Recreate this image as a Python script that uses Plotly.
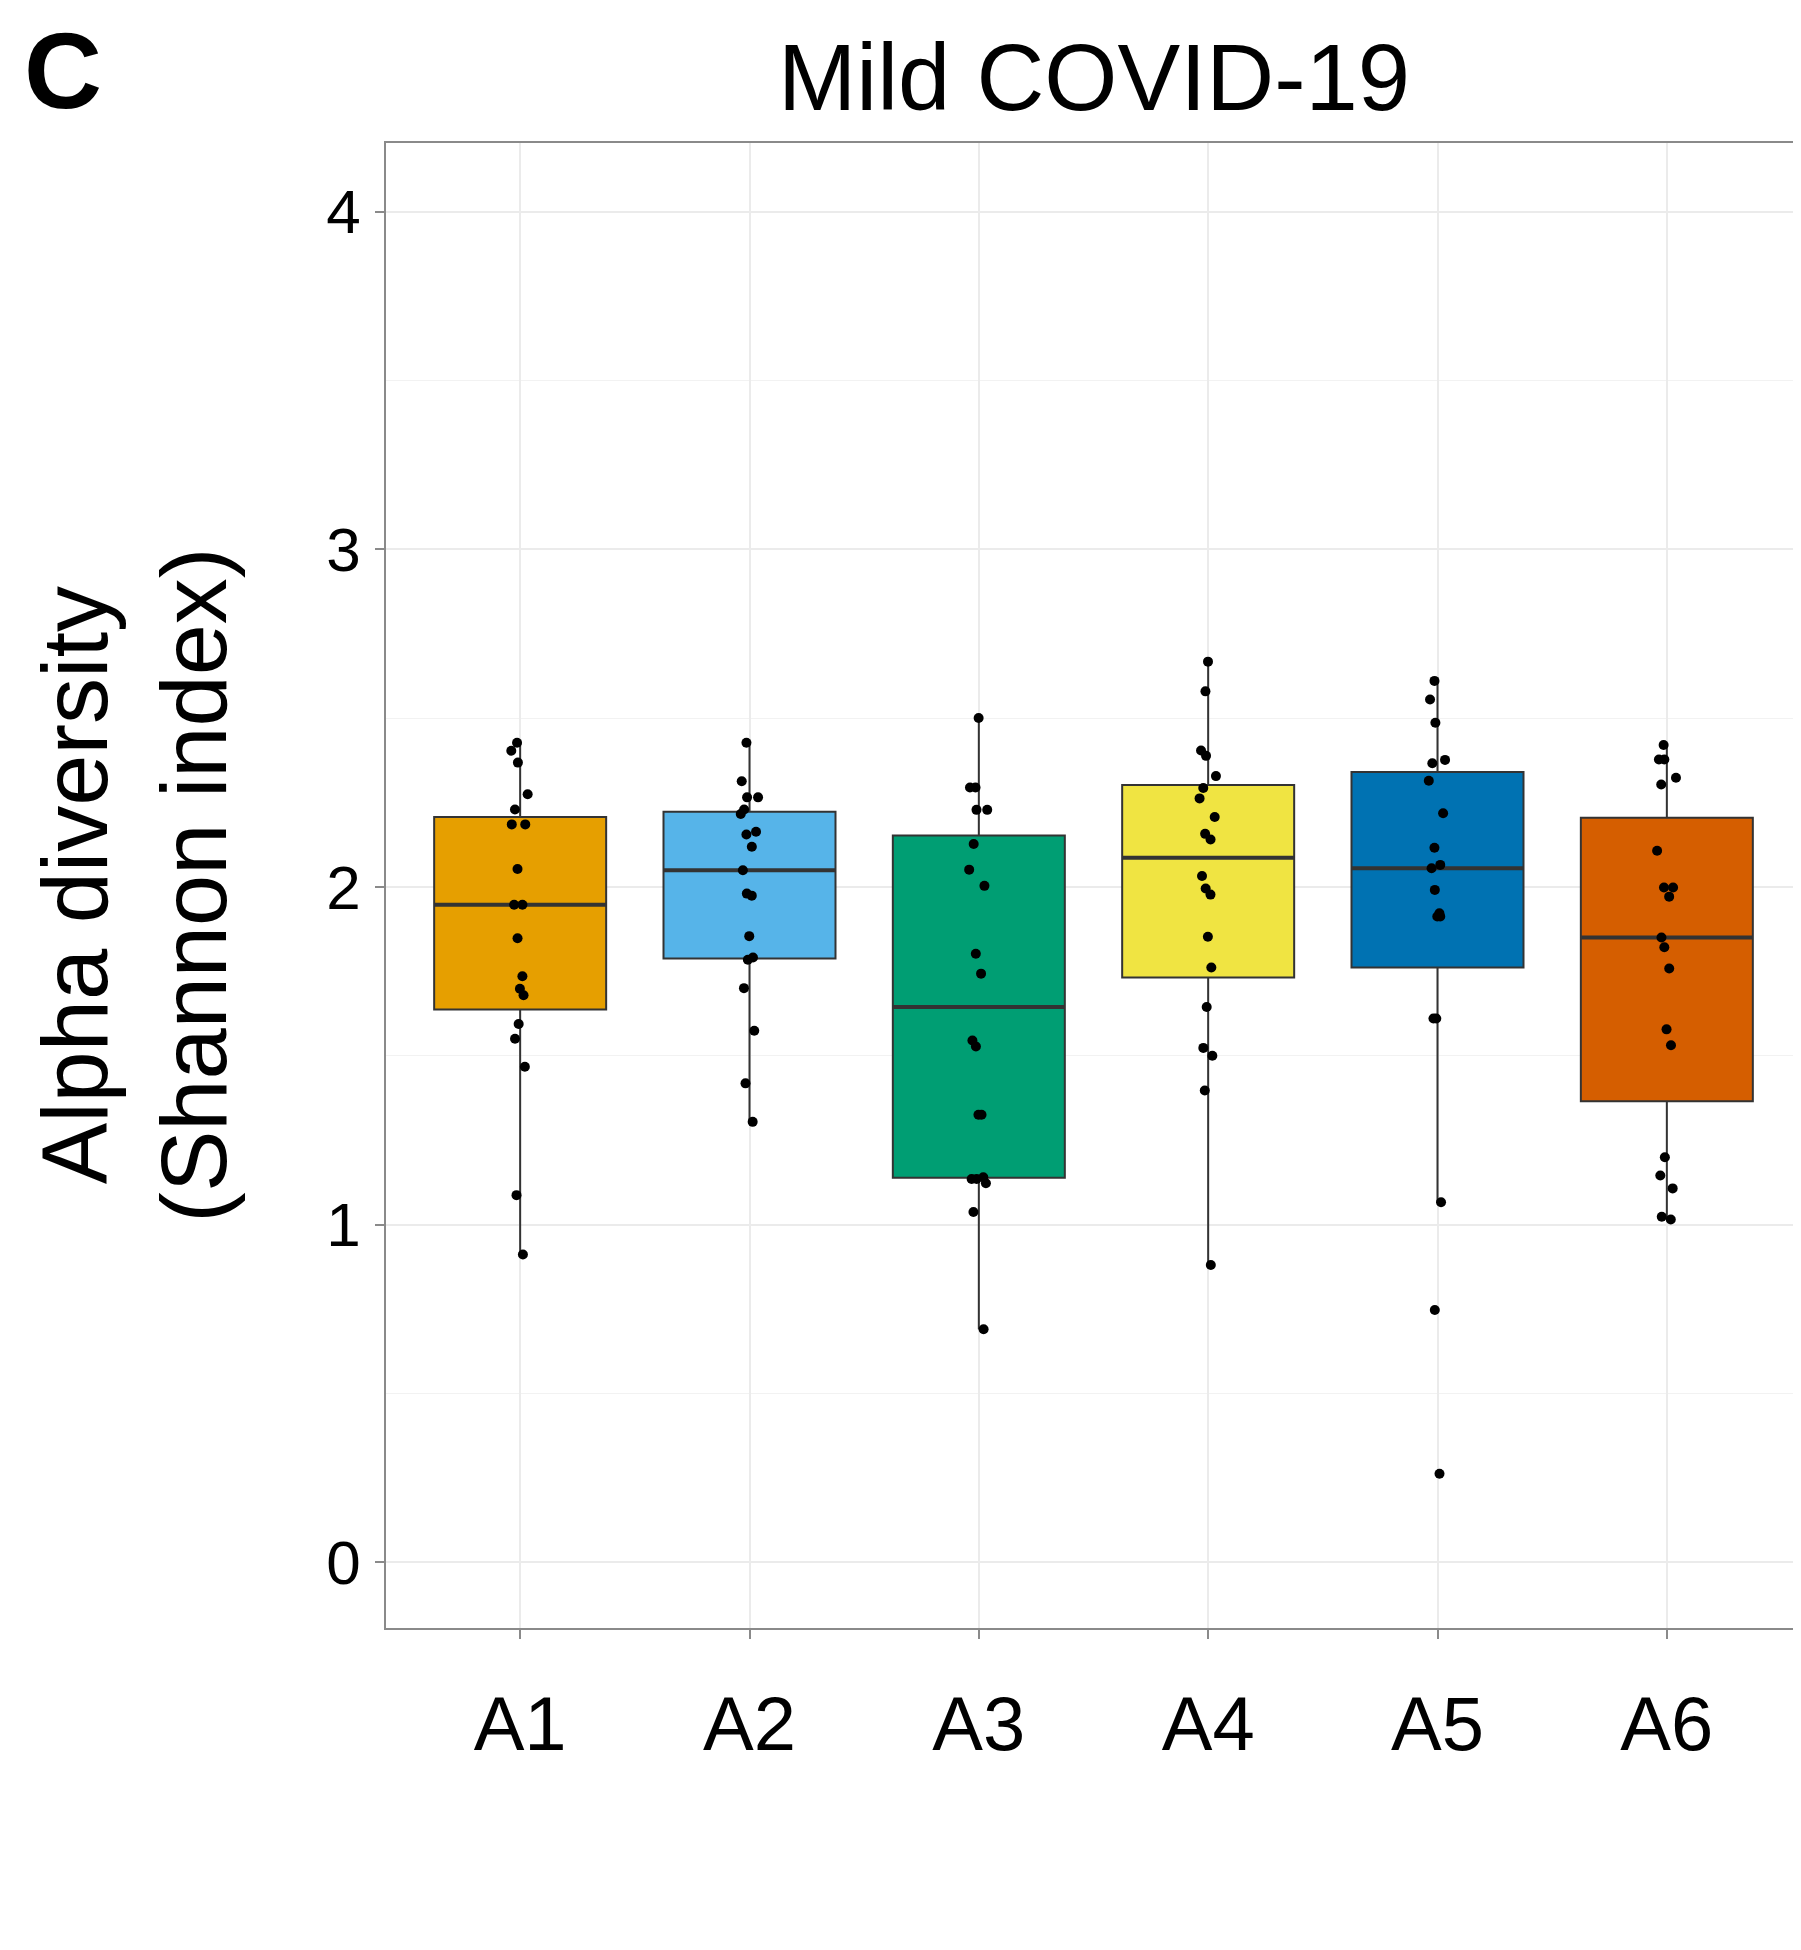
import numpy as np
import plotly.graph_objects as go

# ---- data (Shannon index per sample) ----
categories = ["A1", "A2", "A3", "A4", "A5", "A6"]
colors = ["#E69F00", "#56B4E9", "#009E73", "#F0E442", "#0072B2", "#D55E00"]

a1 = [0.911, 1.087, 1.467, 1.550, 1.594, 1.679, 1.698, 1.735, 1.848, 1.947,
      1.947, 2.053, 2.185, 2.185, 2.229, 2.274, 2.368, 2.403, 2.427]
a2 = [1.304, 1.418, 1.574, 1.700, 1.784, 1.791, 1.854, 1.974, 1.980, 2.049,
      2.119, 2.155, 2.163, 2.216, 2.229, 2.265, 2.265, 2.313, 2.427]
a3 = [0.690, 1.037, 1.122, 1.135, 1.135, 1.140, 1.325, 1.325, 1.527, 1.545,
      1.743, 1.802, 2.003, 2.051, 2.127, 2.228, 2.228, 2.294, 2.294, 2.500]
a4 = [0.880, 1.397, 1.500, 1.523, 1.644, 1.761, 1.852, 1.977, 1.995, 2.032,
      2.140, 2.157, 2.207, 2.262, 2.293, 2.328, 2.388, 2.404, 2.579, 2.667]
a5 = [0.262, 0.747, 1.066, 1.610, 1.610, 1.912, 1.912, 1.922, 1.991, 2.055,
      2.065, 2.116, 2.218, 2.314, 2.366, 2.376, 2.486, 2.555, 2.610]
a6 = [1.015, 1.023, 1.107, 1.145, 1.199, 1.531, 1.578, 1.758, 1.821, 1.850,
      1.971, 1.998, 1.998, 2.107, 2.303, 2.323, 2.377, 2.377, 2.420]
values = [a1, a2, a3, a4, a5, a6]

y_ticks = [0, 1, 2, 3, 4]

FONT = "Liberation Sans, Arial, Helvetica, sans-serif"
BOX_W = 0.75


def box_stats(vals):
    v = np.asarray(vals, dtype=float)
    q1, med, q3 = np.percentile(v, [25, 50, 75])  # same as R type 7 (ggplot)
    iqr = q3 - q1
    lo = v[v >= q1 - 1.5 * iqr].min()
    hi = v[v <= q3 + 1.5 * iqr].max()
    return q1, med, q3, lo, hi


fig = go.Figure()
for cat, col, vals in zip(categories, colors, values):
    q1, med, q3, lo, hi = box_stats(vals)
    # box + whiskers
    fig.add_trace(go.Box(
        x=[cat], q1=[q1], median=[med], q3=[q3],
        lowerfence=[lo], upperfence=[hi],
        name=cat, width=BOX_W,
        fillcolor=col,
        line=dict(color="#333333", width=2),
        boxpoints=False, whiskerwidth=0,
        showlegend=False, hoverinfo="skip",
    ))
    # thicker median line (ggplot style)
    fig.add_trace(go.Box(
        x=[cat], q1=[med], median=[med], q3=[med],
        lowerfence=[med], upperfence=[med],
        name=cat, width=BOX_W,
        fillcolor="rgba(0,0,0,0)",
        line=dict(color="#333333", width=4),
        boxpoints=False, whiskerwidth=0,
        showlegend=False, hoverinfo="skip",
    ))
    # jittered sample points
    fig.add_trace(go.Box(
        x=[cat], q1=[q1], median=[med], q3=[q3],
        lowerfence=[lo], upperfence=[hi],
        y=[vals],
        name=cat, width=BOX_W,
        fillcolor="rgba(0,0,0,0)",
        line=dict(color="rgba(0,0,0,0)", width=0),
        boxpoints="all", jitter=0.12, pointpos=0,
        marker=dict(color="black", size=10, line=dict(width=0)),
        whiskerwidth=0,
        showlegend=False,
    ))

fig.update_layout(
    width=1793,
    height=1942,
    margin=dict(l=378, r=0, t=135, b=322),
    paper_bgcolor="white",
    plot_bgcolor="white",
    boxmode="overlay",
    boxgap=0.25,
    font=dict(family=FONT, color="black"),
    showlegend=False,
)

fig.update_xaxes(
    type="category",
    categoryorder="array",
    categoryarray=categories,
    range=[-0.585, 5.585],
    showgrid=True,
    gridcolor="#EBEBEB",
    gridwidth=1.5,
    showline=True,
    linecolor="#8a8a8a",
    linewidth=1.5,
    mirror=True,
    ticks="outside",
    ticklen=9,
    tickwidth=1.5,
    tickcolor="#8a8a8a",
    tickfont=dict(size=76, family=FONT, color="black"),
    ticklabelstandoff=20,
    zeroline=False,
)

fig.update_yaxes(
    range=[-0.195, 4.203],
    tickvals=y_ticks,
    ticktext=[str(t) for t in y_ticks],
    showgrid=True,
    gridcolor="#EBEBEB",
    gridwidth=1.5,
    minor=dict(showgrid=True, gridcolor="#F2F2F2", gridwidth=1.2, dtick=0.5, tick0=0, ticks=""),
    showline=True,
    linecolor="#8a8a8a",
    linewidth=1.5,
    mirror=False,
    ticks="outside",
    ticklen=9,
    tickwidth=1.5,
    tickcolor="#8a8a8a",
    tickfont=dict(size=62, family=FONT, color="black"),
    ticklabelstandoff=2,
    zeroline=False,
)

# Panel title
fig.add_annotation(
    text="Mild COVID-19", xref="paper", yref="paper",
    x=0.5, y=1.0438, xanchor="center", yanchor="middle",
    showarrow=False, font=dict(size=94, family=FONT, color="black"),
)
# Panel letter
fig.add_annotation(
    text="<b>C</b>", xref="paper", yref="paper",
    x=-0.2575, y=1.049, xanchor="left", yanchor="middle",
    showarrow=False, font=dict(size=108, family=FONT, color="black"),
)
# Y-axis title
fig.add_annotation(
    text="Alpha diversity<br>(Shannon index)", xref="paper", yref="paper",
    x=-0.178, y=0.5, xanchor="center", yanchor="middle",
    textangle=-90, showarrow=False,
    font=dict(size=92, family=FONT, color="black"),
)

fig.write_html("out.html")
